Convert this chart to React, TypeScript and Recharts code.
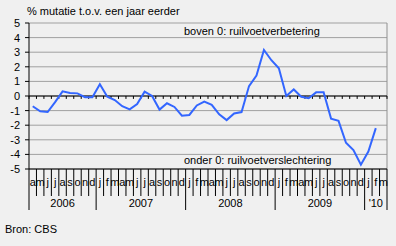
import { LineChart, Line, XAxis, YAxis, CartesianGrid, ReferenceLine } from 'recharts';

// maanden april 2006 t/m maart 2010
const MONTHS = [
  'a', 'm', 'j', 'j', 'a', 's', 'o', 'n', 'd',
  'j', 'f', 'm', 'a', 'm', 'j', 'j', 'a', 's', 'o', 'n', 'd',
  'j', 'f', 'm', 'a', 'm', 'j', 'j', 'a', 's', 'o', 'n', 'd',
  'j', 'f', 'm', 'a', 'm', 'j', 'j', 'a', 's', 'o', 'n', 'd',
  'j', 'f', 'm',
];
const YEAR_LABELS = ['2006', '2007', '2008', '2009', "'10"];
const YEAR_MONTHS = [9, 12, 12, 12, 3];

// ruilvoet, % mutatie t.o.v. een jaar eerder
const VALUES: (number | null)[] = [
  -0.7, -1.05, -1.1, -0.42, 0.32, 0.2, 0.18, -0.08, -0.08,
  0.8, -0.05, -0.28, -0.7, -0.92, -0.55, 0.3, 0.0, -0.93, -0.5, -0.75, -1.35,
  -1.3, -0.65, -0.38, -0.6, -1.25, -1.65, -1.2, -1.1, 0.68, 1.4, 3.15, 2.45,
  1.9, 0.0, 0.45, -0.05, -0.15, 0.25, 0.25, -1.55, -1.7, -3.2, -3.7, -4.7,
  -3.8, -2.2, null,
];

const Y_TICKS = [-5, -4, -3, -2, -1, 0, 1, 2, 3, 4, 5];

const W = 396;
const H = 246;
const M = { top: 23, right: 9, left: 0, bottom: 0 };
const Y_W = 29;
const PLOT_W = W - M.left - M.right - Y_W;
const FONT = '"Liberation Sans", Arial, sans-serif';

const data = MONTHS.map((m, i) => ({ pos: i + 0.5, maand: m, v: VALUES[i] }));
const boundaries = MONTHS.map((_, i) => i).concat(MONTHS.length);
const yearStarts = YEAR_MONTHS.map((_, i) => YEAR_MONTHS.slice(0, i).reduce((a, b) => a + b, 0));

function MonthTick(props: any) {
  const { x, y, payload } = props;
  const k = payload.value;
  const unit = PLOT_W / MONTHS.length;
  const yi = yearStarts.indexOf(k);
  const isYear = yi >= 0 || k === MONTHS.length;
  return (
    <g>
      <line x1={x} y1={y} x2={x} y2={y + (isYear ? 41 : 27)} stroke="#000" />
      {k < MONTHS.length && (
        <text x={x + unit / 2} y={y + 17} textAnchor="middle" fontSize={11} fontFamily={FONT} fill="#000">
          {MONTHS[k]}
        </text>
      )}
      {yi >= 0 && (
        <text x={x + (unit * YEAR_MONTHS[yi]) / 2} y={y + 38} textAnchor="middle" fontSize={11} fontFamily={FONT} fill="#000">
          {YEAR_LABELS[yi]}
        </text>
      )}
    </g>
  );
}

const label = (top: number, left: number): React.CSSProperties => ({
  position: 'absolute', top, left, fontSize: 11, lineHeight: '13px', fontFamily: FONT, color: '#000', whiteSpace: 'nowrap',
});

export default function App() {
  return (
    <div style={{ position: 'absolute', left: 0, top: 0, width: W, height: H, background: '#f0f0f0' }}>
      <LineChart width={W} height={H} data={data} margin={M}>
        <CartesianGrid vertical={false} stroke="#a0a0a0" strokeWidth={1} />
        <XAxis
          dataKey="pos"
          type="number"
          domain={[0, MONTHS.length]}
          ticks={boundaries}
          interval={0}
          height={H - M.top - 146}
          tickSize={0}
          tickMargin={0}
          axisLine={{ stroke: '#000' }}
          tickLine={false}
          tick={<MonthTick />}
        />
        <YAxis
          width={Y_W}
          domain={[-5, 5]}
          ticks={Y_TICKS}
          interval={0}
          tickSize={4}
          tickMargin={5}
          axisLine={{ stroke: '#000' }}
          tickLine={{ stroke: '#000' }}
          tick={{ fontSize: 11, fontFamily: FONT, fill: '#000' }}
        />
        <ReferenceLine x={MONTHS.length} stroke="#909090" />
        <ReferenceLine y={0} stroke="#000" />
        {boundaries.map((k) => (
          <ReferenceLine key={k} segment={[{ x: k, y: 0 }, { x: k, y: -0.2 }]} stroke="#000" />
        ))}
        <Line
          type="linear"
          dataKey="v"
          stroke="#3366ff"
          strokeWidth={2}
          dot={false}
          isAnimationActive={false}
        />
      </LineChart>
      <div style={label(5, 27)}>% mutatie t.o.v. een jaar eerder</div>
      <div style={label(25, 184)}>boven 0: ruilvoetverbetering</div>
      <div style={label(154, 184)}>onder 0: ruilvoetverslechtering</div>
      <div style={label(223, 5)}>Bron: CBS</div>
    </div>
  );
}
